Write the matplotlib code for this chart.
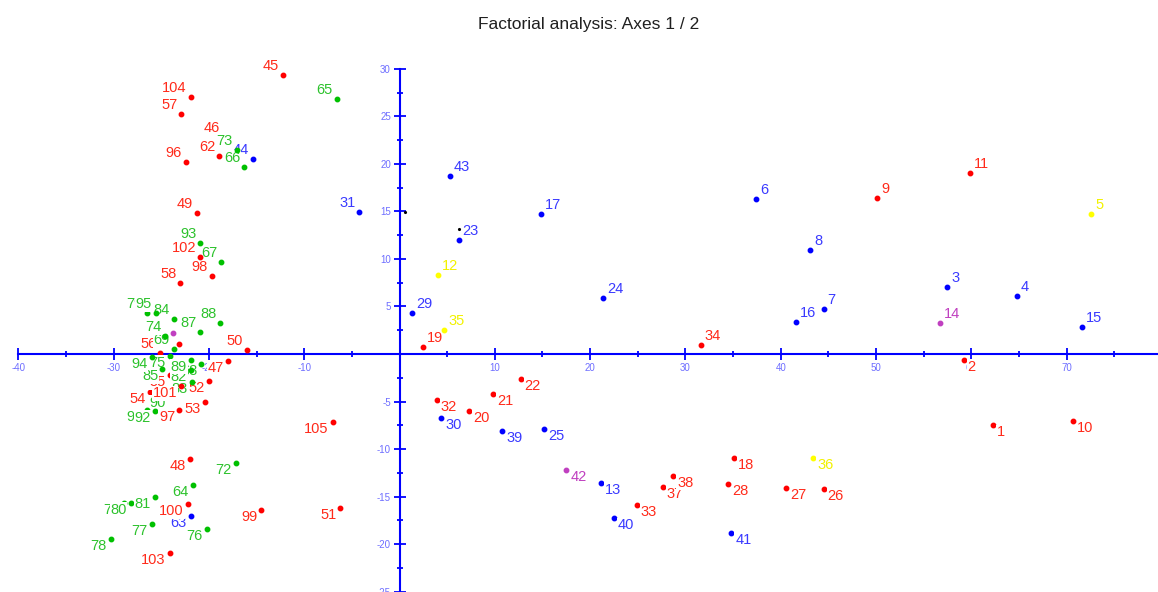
import numpy as np
import matplotlib
matplotlib.use("Agg")
import matplotlib.pyplot as plt
from matplotlib.ticker import FixedLocator, FuncFormatter

plt.rcParams['font.family'] = ['Liberation Sans', 'DejaVu Sans']
plt.rcParams['axes.unicode_minus'] = False

#------data (axis 1 / axis 2 coordinates)------
red_labels = ["1", "2", "9", "10", "11", "18", "19", "20", "21", "22", "26", "27", "28", "32", "33",
              "34", "37", "38", "45", "46", "47", "48", "49", "50", "51", "52", "53", "54", "55",
              "56", "57", "58", "62", "96", "97", "98", "99", "100", "101", "102", "103", "104", "105", ""]
red_x = [62.3, 59.2, 50.1, 70.7, 59.9, 35.1, 2.5, 7.3, 9.8, 12.7, 44.5, 40.6, 34.5, 3.9, 24.9,
         31.6, 27.6, 28.7, -12.2, -18.4, -18.0, -22.0, -21.3, -16.0, -6.2, -20.0, -20.4, -26.2, -24.1,
         -25.1, -22.9, -23.0, -18.9, -22.4, -23.1, -19.7, -14.5, -22.2, -22.9, -20.9, -24.1, -21.9, -7.0, -23.1]
red_y = [-7.5, -0.6, 16.4, -7.1, 19.0, -10.9, 0.7, -6.0, -4.2, -2.6, -14.2, -14.1, -13.7, -4.8, -15.9,
         0.9, -14.0, -12.8, 29.4, 22.8, -0.7, -11.0, 14.8, 0.4, -16.2, -2.8, -5.0, -4.0, -2.2,
         0.1, 25.3, 7.5, 20.8, 20.2, -5.9, 8.2, -16.4, -15.8, -3.4, 10.2, -20.9, 27.1, -7.2, 1.1]

blue_labels = ["3", "4", "6", "7", "8", "13", "15", "16", "17", "23", "24", "25", "29", "30", "31",
               "39", "40", "41", "43", "44", "63"]
blue_x = [57.5, 64.8, 37.4, 44.5, 43.1, 21.1, 71.6, 41.6, 14.8, 6.2, 21.4, 15.2, 1.3, 4.4, -4.2,
          10.8, 22.5, 34.8, 5.3, -15.4, -21.9]
blue_y = [7.1, 6.1, 16.3, 4.7, 10.9, -13.6, 2.8, 3.4, 14.7, 12.0, 5.9, -7.9, 4.3, -6.7, 14.9,
          -8.1, -17.3, -18.8, 18.7, 20.5, -17.1]

green_labels = ["64", "65", "66", "67", "68", "69", "70", "72", "73", "74", "75", "76", "77", "78",
                "79", "80", "81", "82", "83", "84", "85", "87", "88", "89", "90", "91", "92", "93",
                "94", "95"]
green_x = [-21.7, -6.6, -16.3, -18.7, -20.8, -23.7, -28.9, -17.2, -17.1, -24.6, -24.1, -20.2, -26.0,
           -30.3, -26.5, -28.2, -25.7, -21.9, -21.8, -23.7, -24.9, -20.9, -18.8, -21.9, -24.1,
           -26.5, -25.7, -20.9, -26.0, -25.6]
green_y = [-13.8, 26.8, 19.7, 9.7, -1.0, 0.5, -15.7, -11.5, 21.5, 1.9, -0.2, -18.4, -17.9, -19.5,
           4.3, -15.7, -15.1, -1.7, -2.9, 3.7, -1.6, 2.3, 3.3, -0.6, -4.4, -5.9, -6.0, 11.7,
           -0.3, 4.3]

yellow_labels = ["5", "12", "35", "36"]
yellow_x = [72.6, 4.0, 4.7, 43.4]
yellow_y = [14.7, 8.3, 2.5, -10.9]

magenta_labels = ["14", "42", ""]
magenta_x = [56.7, 17.5, -23.8]
magenta_y = [3.3, -12.2, 2.2]

black_x = [0.6, 6.2]
black_y = [14.9, 13.2]

x_major = [-40, -30, -20, -10, 0, 10, 20, 30, 40, 50, 60, 70, 80]
y_major = [-25, -20, -15, -10, -5, 0, 5, 10, 15, 20, 25, 30]

#-----figure-----
fig = plt.figure(figsize=(11.58, 5.92), dpi=100)
ax = fig.add_axes([0, 0, 1, 1])
ax.set_xlim(-41.92, 79.59)
ax.set_ylim(-25.05, 37.26)

for side in ['top', 'right']:
    ax.spines[side].set_visible(False)
ax.spines['left'].set_position(('data', 0))
ax.spines['bottom'].set_position(('data', 0))
ax.spines['bottom'].set_bounds(-40, 79.59)
ax.spines['left'].set_bounds(-25.05, 30)
for side in ['left', 'bottom']:
    ax.spines[side].set_color('#0000ff')
    ax.spines[side].set_linewidth(1.5)

ax.xaxis.set_major_locator(FixedLocator(x_major))
ax.xaxis.set_minor_locator(FixedLocator([v + 5 for v in x_major[:-1]]))
ax.yaxis.set_major_locator(FixedLocator(y_major))
ax.yaxis.set_minor_locator(FixedLocator([v + 2.5 for v in y_major[:-1]]))
nozero = FuncFormatter(lambda v, p: '' if abs(v) < 1e-9 else '%d' % v)
ax.xaxis.set_major_formatter(nozero)
ax.yaxis.set_major_formatter(nozero)
ax.tick_params(which='major', direction='inout', length=8.5, width=1.3, color='#0000ff',
               labelsize=7, labelcolor='#6e6eff', pad=2)
ax.tick_params(which='minor', direction='inout', length=5, width=1.3, color='#0000ff')

# groups: (labels, x, y, marker colour, text colour)
groups = [
    (red_labels, red_x, red_y, '#ff0000', '#ff2a1a'),
    (blue_labels, blue_x, blue_y, '#0000ff', '#3a3aff'),
    (green_labels, green_x, green_y, '#00c000', '#2cc22c'),
    (yellow_labels, yellow_x, yellow_y, '#ffff00', '#f2f200'),
    (magenta_labels, magenta_x, magenta_y, '#c040c0', '#c040c0'),
]

pts = []
for labs, xs, ys, mc, tc in groups:
    for lab, x, y in zip(labs, xs, ys):
        pts.append((int(lab) if lab else 0, lab, x, y, mc, tc))
pts.sort(key=lambda p: p[0])

z = 3
for num, lab, x, y, mc, tc in pts:
    ax.plot(x, y, 'o', ms=3.2, color=mc, mec=mc, zorder=z)
    z += 1
    if lab:
        dx = 4 if x >= 0 else -4
        ha = 'left' if x >= 0 else 'right'
        if y >= 0:
            dy, va = 2, 'bottom'
        else:
            dy, va = 0, 'top'
        ax.annotate(lab, (x, y), xytext=(dx, dy), textcoords='offset pixels',
                    ha=ha, va=va, color=tc, fontsize=10.5, zorder=z,
                    bbox=dict(boxstyle='square,pad=0.05', fc='white', ec='none'))
        z += 1

ax.plot(black_x, black_y, '.', ms=2.5, color='black', zorder=2)

fig.text(589 / 1158, 1 - 24 / 592, 'Factorial analysis: Axes 1 / 2', ha='center', va='center',
         fontsize=12.5, color='#202020')

fig.savefig('out.png', dpi=100)
